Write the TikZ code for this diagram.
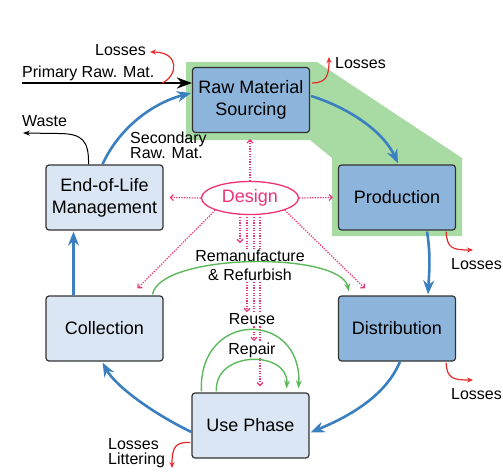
\documentclass[tikz,border=0pt]{standalone}
\usepackage{fontspec}
\setmainfont{Liberation Sans}
\usetikzlibrary{arrows.meta,calc,shapes.geometric}
\definecolor{midblue}{HTML}{8DB4DA}
\definecolor{lightblue}{HTML}{DAE6F4}
\definecolor{hlgreen}{HTML}{A8DAA3}
\definecolor{flowblue}{HTML}{3A80C0}
\definecolor{arcgreen}{HTML}{5DB85B}
\definecolor{designpink}{HTML}{EC3278}
\definecolor{lossred}{HTML}{E62A2A}
\definecolor{boxline}{HTML}{333333}
\begin{document}
\begin{tikzpicture}[x=1pt,y=-1pt,
  box/.style={draw=boxline,line width=1.2pt,rounded corners=3pt,minimum width=117pt,minimum height=65pt,align=center,font=\fontsize{18}{22}\selectfont,inner sep=0pt},
  darkbox/.style={box,fill=midblue},
  lightbox/.style={box,fill=lightblue},
  lbl/.style={inner sep=0pt,font=\fontsize{16}{17}\selectfont},
  flow/.style={flowblue,line width=2.6pt,-{Stealth[length=14pt,width=11pt]}},
  primary/.style={black,line width=2.6pt,-{Stealth[length=15pt,width=11pt]}},
  waste/.style={black,line width=1pt,-{Stealth[length=7pt,width=5pt]}},
  loss/.style={lossred,line width=1.2pt,-{Stealth[length=6pt,width=5pt]}},
  loop/.style={arcgreen,line width=1.4pt,-{Stealth[length=8pt,width=6pt]}},
  dsn/.style={designpink,line width=1.2pt,dash pattern=on 1.3pt off 1.3pt,-{Straight Barb[length=3pt,width=6pt]}}
]
\useasboundingbox (0,0) rectangle (503,471);
% highlight
\fill[hlgreen] (186,62) -- (317,62) -- (462,158) -- (462,236) -- (332,236) -- (332,158) -- (310,140) -- (186,140) -- cycle;
% boxes
\node[darkbox] (raw) at (251,100) {Raw Material\\Sourcing};
\node[darkbox] (prod) at (397,197.5) {Production};
\node[darkbox] (dist) at (397,328.5) {Distribution};
\node[lightbox] (use) at (250.5,425.5) {Use Phase};
\node[lightbox] (coll) at (104.5,328.5) {Collection};
\node[lightbox] (eol) at (104.5,197.5) {End-of-Life\\Management};
\node[ellipse,draw=designpink,line width=1.3pt,fill=white,minimum width=97pt,minimum height=33pt,inner sep=0pt,text=designpink,font=\fontsize{18}{22}\selectfont] (design) at (250,198) {Design};
% design arrows
\draw[dsn] (design.north) -- ($(raw.south)+(-1,6)$);
\draw[dsn] (design.west) -- ($(eol.east)+(6,0)$);
\draw[dsn] (design.east) -- ($(prod.west)+(-5,0)$);
\draw[dsn] (design.south west) -- ($(coll.north)+(33,-7)$);
\draw[dsn] (design.south east) -- ($(dist.north west)+(27,-7)$);
\draw[dsn] ($(design.south)+(-10,2)$) -- ($(design.south)+(-10,28)$);
\draw[dsn] ($(design.south)+(-3,2)$) -- ($(design.south)+(-3,97)$);
\draw[dsn] ($(design.south)+(4,2)$) -- ($(design.south)+(4,126)$);
\draw[dsn] ($(design.south)+(10,2)$) -- ($(use.north)+(9.5,-6)$);
% loop labels
\node[lbl,fill=white,inner sep=1pt,align=center,font=\fontsize{16}{19}\selectfont] (reman) at (250,265) {Remanufacture\\\& Refurbish};
\node[lbl,fill=white,inner sep=1pt] (reuse) at (252,319) {Reuse};
\node[lbl,fill=white,inner sep=1pt] (repair) at (252,350) {Repair};
% green loops
\draw[loop] ($(coll.north)+(48,-1)$) .. controls (160,253) and (340,251) .. ($(dist.north west)+(11,-4)$);
\draw[loop] ($(use.north west)+(10,-1)$) .. controls (198,310) and (302,310) .. ($(use.north east)+(-11,-4)$);
\draw[loop] ($(use.north west)+(25,-1)$) .. controls (214,350) and (289,350) .. ($(use.north east)+(-23,-4)$);
% blue flows
\draw[flow] ($(eol.north)+(-2,0)$) .. controls (118,130) and (150,104) .. ($(raw.west)+(-1,-7)$);
\draw[flow] ($(raw.east)+(1,-4)$) .. controls (355,110) and (385,135) .. ($(prod.north)+(1,-1)$);
\draw[flow] ($(prod.south)+(30,1)$) .. controls (431,255) and (429,275) .. ($(dist.north)+(31,-1)$);
\draw[flow] ($(dist.south)+(3,0)$) .. controls (385,398) and (345,418) .. ($(use.east)+(1,7)$);
\draw[flow] ($(use.west)+(0,6.5)$) .. controls (150,412) and (115,385) .. ($(coll.south)+(-2,1)$);
\draw[flow] ($(coll.north)+(-31,0)$) -- ($(eol.south)+(-31,1)$);
% primary material
\coordinate (pstart) at (22,83);
\coordinate (ploss) at (162,83);
\draw[primary] (pstart) -- ($(raw.west)+(0,-17)$);
\node[lbl,anchor=west] (primlbl) at (22,73) {Primary Raw. Mat.};
\node[lbl,anchor=west] (seclbl) at (130,148) {\begin{tabular}{@{}l@{}}Secondary\\[-2pt]Raw. Mat.\end{tabular}};
% waste
\coordinate (wend) at (23,133);
\draw[waste] ($(eol.north)+(-16,0)$) .. controls (89,140) and (82,133.5) .. (58,133.5) -- (wend);
\node[lbl,anchor=west] (wastelbl) at (22,121) {Waste};
% losses
\coordinate (l1) at (150,52);
\draw[loss] (ploss) .. controls (178,76) and (180,52) .. (l1);
\node[lbl,anchor=east] (loss1) at (146,50) {Losses};
\coordinate (l2) at (329,57);
\draw[loss] ($(raw.east)+(2,-17)$) .. controls (326,83) and (329,76) .. (l2);
\node[lbl,anchor=west] (loss2) at (335,63) {Losses};
\coordinate (l3) at (473,250);
\draw[loss] ($(prod.south east)+(-10,1)$) .. controls (447,248) and (452,250) .. (l3);
\node[lbl,anchor=west] (loss3) at (451,264) {Losses};
\coordinate (l4) at (473,380);
\draw[loss] ($(dist.south east)+(-10,1)$) .. controls (447,378) and (452,380) .. (l4);
\node[lbl,anchor=west] (loss4) at (451,394) {Losses};
\coordinate (l5) at (172,468);
\draw[loss] ($(use.west)+(-1,17)$) .. controls (176,442) and (172,446) .. (l5);
\node[lbl,anchor=west] (loss5) at (108,454) {\begin{tabular}{@{}l@{}}Losses\\[-2pt]Littering\end{tabular}};
\end{tikzpicture}
\end{document}
